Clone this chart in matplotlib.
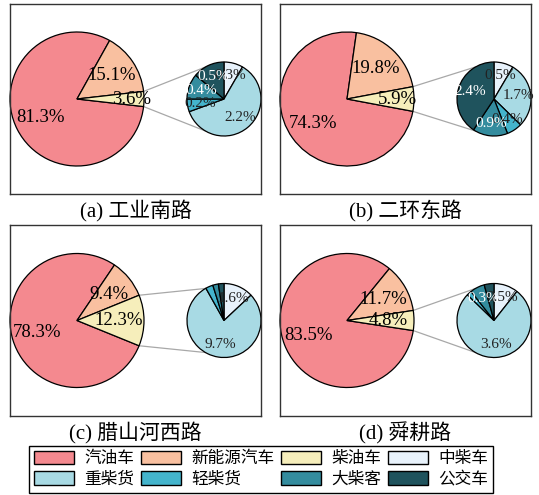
import matplotlib
matplotlib.use('Agg')
import matplotlib.pyplot as plt
import numpy as np
from matplotlib.patches import Patch

plt.rcParams['font.family'] = ['Liberation Serif', 'Noto Sans CJK SC']

# main pie: 汽油车, 新能源汽车, 柴油车
main_names = ['汽油车', '新能源汽车', '柴油车']
# sub pie (breakdown of 柴油车): 中柴车, 重柴货, 轻柴货, 大柴客, 公交车
sub_names = ['中柴车', '重柴货', '轻柴货', '大柴客', '公交车']

titles = ['(a) 工业南路', '(b) 二环东路', '(c) 腊山河西路', '(d) 舜耕路']

main_a = [81.3, 15.1, 3.6]
main_b = [74.3, 19.8, 5.9]
main_c = [78.3, 9.4, 12.3]
main_d = [83.5, 11.7, 4.8]

sub_a = [0.3, 2.2, 0.2, 0.4, 0.5]
sub_b = [0.5, 1.7, 0.4, 0.9, 2.4]
sub_c = [1.6, 9.7, 0.4, 0.3, 0.3]
sub_d = [0.5, 3.6, 0.1, 0.3, 0.2]

# which sub labels are printed in each panel
show_a = [1, 1, 1, 1, 1]
show_b = [1, 1, 1, 1, 1]
show_c = [1, 1, 0, 0, 0]
show_d = [1, 1, 0, 1, 0]

main_colors = ['#F4898F', '#F9C0A0', '#F6EEBB']
sub_colors = ['#E8F2FB', '#A8DAE4', '#44B4CC', '#348C9E', '#1F535D']
sub_text_colors = ['#222222', '#222222', '#222222', 'white', 'white']

W, H = 539, 495
fig = plt.figure(figsize=(W / 100, H / 100), dpi=100)

# panel boxes in pixels (left, top, width, height)
boxes = [(10, 4, 251, 190), (280, 4, 251, 190), (10, 225, 251, 191), (280, 225, 251, 191)]
diesel_dist = [0.82, 0.75, 0.62, 0.62]

mains = [main_a, main_b, main_c, main_d]
subs = [sub_a, sub_b, sub_c, sub_d]
shows = [show_a, show_b, show_c, show_d]

for i in range(4):
    l, t, w, h = boxes[i]
    ax = fig.add_axes([l / W, 1 - (t + h) / H, w / W, h / H])
    cm = (67, h / 2)
    rm = 67
    cs = (214, h / 2)
    rs = 37

    vals = mains[i]
    theta_d = 360 * vals[2] / sum(vals)
    wedges, texts, autotexts = ax.pie(vals, colors=main_colors, center=cm, radius=rm,
                                      startangle=-theta_d / 2, counterclock=False,
                                      autopct='%1.1f%%', pctdistance=0.62,
                                      wedgeprops=dict(edgecolor='black', linewidth=0.9),
                                      textprops=dict(fontsize=13.5), frame=True)
    # push diesel label outward
    wd = wedges[2]
    mid = np.deg2rad((wd.theta1 + wd.theta2) / 2)
    autotexts[2].set_position((cm[0] + diesel_dist[i] * rm * np.cos(mid),
                               cm[1] + diesel_dist[i] * rm * np.sin(mid)))

    sv = subs[i]
    sw, st, sat = ax.pie(sv, colors=sub_colors, center=cs, radius=rs,
                         startangle=90, counterclock=False,
                         autopct='%1.1f%%', pctdistance=0.66,
                         wedgeprops=dict(edgecolor='black', linewidth=0.9),
                         textprops=dict(fontsize=11), frame=True)
    for k, txt in enumerate(sat):
        txt.set_text(f'{sv[k]:.1f}%' if shows[i][k] else '')
        txt.set_color(sub_text_colors[k])

    # connecting lines
    for ang_m, ang_s in [(wd.theta1, 240), (wd.theta2, 120)]:
        x0 = cm[0] + rm * np.cos(np.deg2rad(ang_m))
        y0 = cm[1] + rm * np.sin(np.deg2rad(ang_m))
        x1 = cs[0] + rs * np.cos(np.deg2rad(ang_s))
        y1 = cs[1] + rs * np.sin(np.deg2rad(ang_s))
        ax.plot([x0, x1], [y0, y1], color='#a8a8a8', lw=0.9, zorder=0)

    ax.set_xlim(0, w)
    ax.set_ylim(0, h)
    ax.set_aspect('equal')
    ax.set_xticks([])
    ax.set_yticks([])
    for s in ax.spines.values():
        s.set_linewidth(1.0)
        s.set_color('#333333')

    ax.text(0.5, -0.09, titles[i], transform=ax.transAxes, ha='center', va='center',
            fontsize=15)

# legend, filled by row
all_names = main_names + sub_names
all_colors = main_colors + sub_colors
order = [0, 4, 1, 5, 2, 6, 3, 7]
handles = [Patch(facecolor=all_colors[k], edgecolor='black', linewidth=1.0) for k in order]
labels = [all_names[k] for k in order]
fig.legend(handles, labels, ncol=4, loc='lower left',
           bbox_to_anchor=(29 / W, 2 / H, 464 / W, 45 / H), mode='expand',
           fancybox=False, edgecolor='black', framealpha=1, fontsize=12,
           handlelength=2.4, handleheight=0.9, handletextpad=0.6,
           borderaxespad=0, labelspacing=0.25, borderpad=0.3)

fig.savefig('out.png', dpi=100)
